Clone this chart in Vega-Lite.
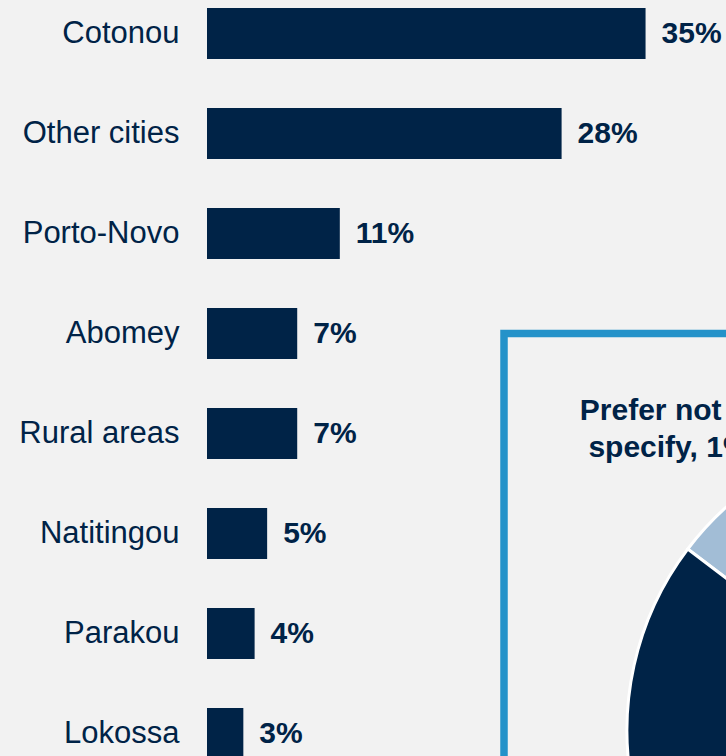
{
  "$schema": "https://vega.github.io/schema/vega-lite/v6.json",
  "width": 519,
  "height": 756,
  "autosize": {"type": "none"},
  "padding": {"left": 207, "top": 0, "right": 0, "bottom": 0},
  "background": "#f2f2f2",
  "config": {"view": {"stroke": null}, "font": "Liberation Sans"},
  "layer": [
    {
      "data": {
        "values": [
          {"city": "Cotonou", "share": 0.35},
          {"city": "Other cities", "share": 0.283},
          {"city": "Porto-Novo", "share": 0.106},
          {"city": "Abomey", "share": 0.072},
          {"city": "Rural areas", "share": 0.072},
          {"city": "Natitingou", "share": 0.048},
          {"city": "Parakou", "share": 0.038},
          {"city": "Lokossa", "share": 0.029}
        ]
      },
      "encoding": {
        "y": {
          "field": "city",
          "type": "nominal",
          "sort": null,
          "scale": {"range": [0, 767], "paddingInner": 0.49, "paddingOuter": 0.08},
          "axis": {
            "title": null,
            "domain": false,
            "ticks": false,
            "grid": false,
            "labelPadding": 28,
            "labelFontSize": 31,
            "labelFont": "Liberation Sans",
            "labelColor": "#002347",
            "labelLimit": 300
          }
        },
        "x": {
          "field": "share",
          "type": "quantitative",
          "scale": {"domain": [0, 0.4142], "nice": false, "zero": true},
          "axis": null
        }
      },
      "layer": [
        {"mark": {"type": "bar", "color": "#002347"}},
        {
          "mark": {
            "type": "text",
            "align": "left",
            "baseline": "middle",
            "dx": 16,
            "fontSize": 30,
            "fontWeight": "bold",
            "color": "#002347"
          },
          "encoding": {"text": {"field": "share", "type": "quantitative", "format": ".0%"}}
        }
      ]
    },
    {
      "data": {"values": [{"box": "inset"}]},
      "mark": {"type": "rect", "fill": "#f2f2f2", "stroke": "#2492c9", "strokeWidth": 7.5},
      "encoding": {
        "x": {"value": 297},
        "y": {"value": 333.5},
        "x2": {"value": 700},
        "y2": {"value": 950}
      }
    },
    {
      "data": {"values": [{"label": ["Prefer not to", "specify, 1%"]}]},
      "mark": {
        "type": "text",
        "align": "center",
        "baseline": "alphabetic",
        "fontSize": 30,
        "fontWeight": "bold",
        "lineHeight": 37,
        "color": "#002347"
      },
      "encoding": {
        "text": {"field": "label"},
        "x": {"value": 462},
        "y": {"value": 420}
      }
    },
    {
      "data": {
        "values": [
          {"group": "No", "value": 12, "ord": 1},
          {"group": "Prefer not to specify", "value": 1, "ord": 2},
          {"group": "Yes", "value": 87, "ord": 3}
        ]
      },
      "mark": {"type": "arc", "radius": 300, "stroke": "white", "strokeWidth": 3},
      "encoding": {
        "theta": {"field": "value", "type": "quantitative", "stack": true, "scale": {"range": [5.36, 11.643]}},
        "color": {
          "field": "group",
          "type": "nominal",
          "scale": {"domain": ["No", "Prefer not to specify", "Yes"], "range": ["#a2bdd6", "#7f9fbf", "#002347"]},
          "legend": null
        },
        "order": {"field": "ord"},
        "x": {"value": 720},
        "y": {"value": 730}
      }
    }
  ]
}
